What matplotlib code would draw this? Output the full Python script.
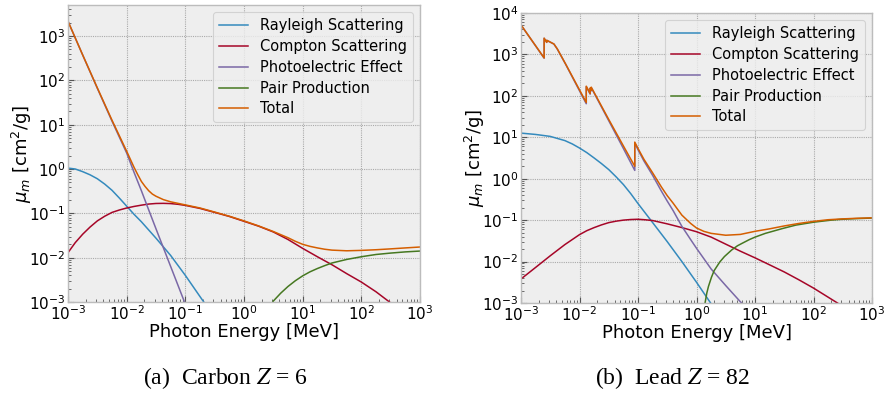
import numpy as np
import matplotlib
matplotlib.use("Agg")
import matplotlib.pyplot as plt

# ---------------- Carbon (Z = 6) ----------------
# photon energy in MeV, mass attenuation coefficients in cm^2/g
carbon_rayleigh_energy = [0.001, 0.00133, 0.00178, 0.00237, 0.00316, 0.00422,
                          0.00562, 0.0075, 0.01, 0.0133, 0.0178, 0.0316, 0.0562,
                          0.1, 0.178, 0.316]
carbon_rayleigh = [1.05, 1.0, 0.871, 0.741, 0.603, 0.457, 0.331, 0.221, 0.145,
                   0.0955, 0.0646, 0.0275, 0.0112, 0.00398, 0.00132, 0.000447]

carbon_compton_energy = [0.001, 0.00133, 0.00178, 0.00237, 0.00316, 0.00422,
                         0.00562, 0.0075, 0.01, 0.0133, 0.0178, 0.0237, 0.0316,
                         0.0422, 0.0562, 0.075, 0.1, 0.178, 0.316, 0.562, 1,
                         1.78, 3.16, 5.62, 10, 17.8, 31.6, 56.2, 100, 178, 316,
                         562, 1000]
carbon_compton = [0.0130, 0.0219, 0.0339, 0.0490, 0.0676, 0.0861, 0.105, 0.119,
                  0.132, 0.143, 0.153, 0.162, 0.167, 0.168, 0.166, 0.160, 0.151,
                  0.129, 0.105, 0.0851, 0.0661, 0.0513, 0.0380, 0.0257, 0.0162,
                  0.0105, 0.00692, 0.00437, 0.00282, 0.00170, 0.000955,
                  0.000631, 0.000380]

carbon_photo_energy = [0.001, 0.00178, 0.00316, 0.00562, 0.01, 0.0133, 0.0178,
                       0.0237, 0.0316, 0.0562, 0.1, 0.178]
carbon_photo = [2140, 372, 66.1, 12.0, 2.29, 0.851, 0.324, 0.120, 0.0447,
                0.00631, 0.000891, 0.000126]

carbon_pair_energy = [2.51, 3.16, 4.22, 5.62, 7.50, 10, 13.3, 17.8, 23.7, 31.6,
                      56.2, 100, 178, 316, 562, 1000]
carbon_pair = [0.000501, 0.00105, 0.00158, 0.00224, 0.00302, 0.00389, 0.00479,
               0.00569, 0.00661, 0.00759, 0.00912, 0.0105, 0.0118, 0.0127,
               0.0135, 0.0141]

carbon_total_energy = [0.001, 0.00178, 0.00316, 0.00562, 0.01, 0.0133, 0.0154,
                       0.0178, 0.0205, 0.0237, 0.0274, 0.0316, 0.0422, 0.0562,
                       0.075, 0.1, 0.178, 0.316, 0.562, 1, 1.78, 3.16, 5.62,
                       7.50, 10, 13.3, 17.8, 23.7, 31.6, 56.2, 100, 178, 316,
                       562, 1000]
carbon_total = [2140, 372, 67.6, 12.6, 2.51, 1.10, 0.750, 0.525, 0.407, 0.324,
                0.272, 0.243, 0.204, 0.182, 0.168, 0.155, 0.132, 0.107, 0.0861,
                0.0676, 0.0519, 0.0389, 0.0282, 0.0234, 0.0200, 0.0180, 0.0166,
                0.0155, 0.0148, 0.0143, 0.0146, 0.0151, 0.0158, 0.0166, 0.0174]

# ---------------- Lead (Z = 82) ----------------
lead_rayleigh_energy = [0.001, 0.00178, 0.00316, 0.00562, 0.0075, 0.01, 0.0133,
                        0.0178, 0.0237, 0.0316, 0.0422, 0.0562, 0.075, 0.1,
                        0.178, 0.316, 0.562, 1, 1.78, 3.16]
lead_rayleigh = [12.6, 11.7, 10.5, 8.32, 6.92, 5.50, 4.27, 3.16, 2.32, 1.66,
                 1.11, 0.724, 0.437, 0.251, 0.0871, 0.0302, 0.0100, 0.00316,
                 0.000955, 0.000316]

lead_compton_energy = [0.001, 0.00178, 0.00316, 0.00562, 0.01, 0.0133, 0.0178,
                       0.0237, 0.0316, 0.0422, 0.0562, 0.075, 0.1, 0.133,
                       0.178, 0.316, 0.562, 1, 1.78, 3.16, 5.62, 10, 17.8,
                       31.6, 56.2, 100, 178, 316, 562, 1000]
lead_compton = [0.00380, 0.00724, 0.0138, 0.0257, 0.0447, 0.0556, 0.0661,
                0.0767, 0.0871, 0.0944, 0.100, 0.1035, 0.105, 0.102, 0.0977,
                0.0813, 0.0661, 0.0525, 0.0389, 0.0263, 0.0178, 0.0123,
                0.00832, 0.00562, 0.00363, 0.00229, 0.00138, 0.000832,
                0.000501, 0.000302]

# absorption edges (M, L, K) appear as repeated energies
lead_photo_energy = [0.001, 0.002484, 0.002484, 0.00275, 0.00275, 0.00365,
                     0.00417, 0.00575, 0.01304, 0.01304, 0.0152, 0.0152,
                     0.01586, 0.01586, 0.0316, 0.0562, 0.088, 0.088, 0.1,
                     0.126, 0.178, 0.251, 0.316, 0.398, 0.562, 0.794, 1.0,
                     1.78, 3.16, 5.62, 10]
lead_photo = [5130, 813, 2455, 1950, 2188, 1778, 1349, 589, 64.6, 166, 110, 151,
              132, 158, 25.1, 5.37, 1.585, 7.24, 5.01, 2.69, 1.20, 0.501, 0.288,
              0.170, 0.0708, 0.0339, 0.0209, 0.00661, 0.00263, 0.00107,
              0.000501]

lead_total_energy = [0.001, 0.002484, 0.002484, 0.00275, 0.00275, 0.00365,
                     0.00417, 0.00575, 0.01304, 0.01304, 0.0152, 0.0152,
                     0.01586, 0.01586, 0.0316, 0.0562, 0.088, 0.088, 0.1,
                     0.126, 0.178, 0.251, 0.316, 0.398, 0.562, 0.794, 1.0,
                     1.33, 1.78, 3.16, 5.62, 10, 17.8, 31.6, 56.2, 100, 178,
                     316, 562, 1000]
lead_total = [5140, 824, 2466, 1960, 2199, 1788, 1358, 597, 69.2, 171, 114, 155,
              136, 162, 26.9, 6.19, 1.99, 7.64, 5.37, 2.95, 1.38, 0.631, 0.389,
              0.257, 0.132, 0.0832, 0.0646, 0.0537, 0.0479, 0.0432, 0.0452,
              0.0537, 0.0617, 0.0724, 0.0832, 0.0933, 0.1023, 0.1072, 0.1109,
              0.1135]

lead_pair_energy = [1.25, 1.4, 1.5, 1.6, 1.8, 2.0, 2.5, 3.0, 4.0, 5.0, 6.0, 8.0,
                    10, 15, 20, 30, 50, 100, 200, 300, 500, 1000]
lead_pair = [0.0001, 0.00100, 0.00174, 0.00251, 0.00417, 0.00603, 0.00977,
             0.0132, 0.0191, 0.0240, 0.0275, 0.0339, 0.0389, 0.0479, 0.0537,
             0.0631, 0.0759, 0.0891, 0.1000, 0.1047, 0.1084, 0.1122]

labels = ["Rayleigh Scattering", "Compton Scattering", "Photoelectric Effect",
          "Pair Production", "Total"]
colors = ["#348ABD", "#A60628", "#7A68A6", "#467821", "#D55E00"]

plt.rcParams.update({
    "font.family": "DejaVu Sans",
    "axes.facecolor": "#eeeeee",
    "axes.edgecolor": "#bcbcbc",
    "axes.linewidth": 1.0,
    "xtick.direction": "in",
    "ytick.direction": "in",
    "xtick.color": "#555555",
    "ytick.color": "#555555",
    "xtick.labelcolor": "black",
    "ytick.labelcolor": "black",
    "xtick.labelsize": 11,
    "ytick.labelsize": 11,
    "axes.labelsize": 13,
    "legend.fontsize": 10.5,
})

fig = plt.figure(figsize=(8.94, 3.94), dpi=100)
ax1 = fig.add_axes([0.0761, 0.2335, 0.3937, 0.7538])
ax2 = fig.add_axes([0.5828, 0.2310, 0.3926, 0.7360])


def draw(ax, series, ylim):
    for (x, y), lab, col in zip(series, labels, colors):
        ax.plot(x, y, color=col, lw=1.1, label=lab)
    ax.set_xscale("log")
    ax.set_yscale("log")
    ax.set_xlim(1e-3, 1e3)
    ax.set_ylim(*ylim)
    ax.grid(True, which="major", color="#aaaaaa", linestyle=(0, (1, 1)),
            linewidth=0.8)
    ax.set_axisbelow(True)
    ax.tick_params(which="major", length=4, width=0.8, pad=2)
    ax.tick_params(which="minor", length=2, width=0.6)
    ax.set_xlabel("Photon Energy [MeV]", labelpad=0)
    ax.set_ylabel(r"$\mu_m$ [cm$^2$/g]", labelpad=-4)
    leg = ax.legend(loc="upper right", frameon=True, fancybox=True,
                    framealpha=0.8, facecolor="#eeeeee", edgecolor="#cccccc",
                    labelspacing=0.4)
    leg.get_frame().set_linewidth(0.8)


draw(ax1, [(carbon_rayleigh_energy, carbon_rayleigh),
           (carbon_compton_energy, carbon_compton),
           (carbon_photo_energy, carbon_photo),
           (carbon_pair_energy, carbon_pair),
           (carbon_total_energy, carbon_total)], (1e-3, 10 ** 3.7))
draw(ax2, [(lead_rayleigh_energy, lead_rayleigh),
           (lead_compton_energy, lead_compton),
           (lead_photo_energy, lead_photo),
           (lead_pair_energy, lead_pair),
           (lead_total_energy, lead_total)], (1e-3, 1e4))

cap = dict(ha="center", va="center", fontsize=17, family="Liberation Serif",
           math_fontfamily="stix")
fig.text(225 / 894, 1 - 378 / 394, r"(a)  Carbon $Z$ = 6", **cap)
fig.text(673 / 894, 1 - 378 / 394, r"(b)  Lead $Z$ = 82", **cap)

fig.savefig("out.png", dpi=100)
